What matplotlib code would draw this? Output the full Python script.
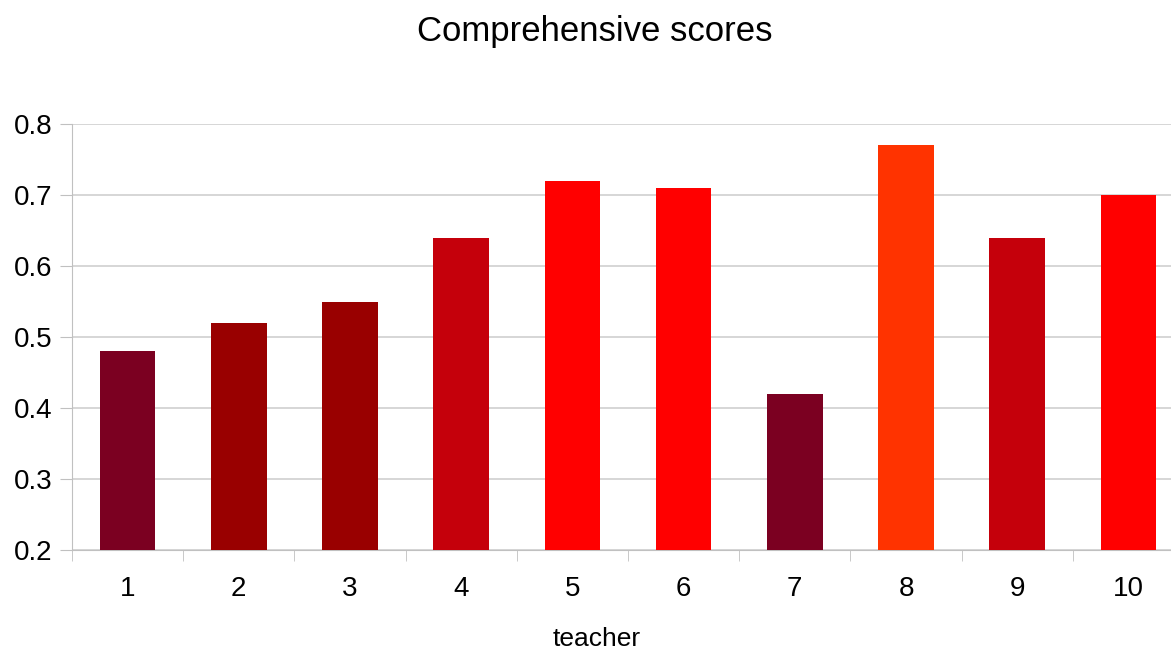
import matplotlib.pyplot as plt
import numpy as np

plt.rcParams['font.family'] = ['Liberation Sans', 'DejaVu Sans']

teachers = ['1', '2', '3', '4', '5', '6', '7', '8', '9', '10']
scores = [0.48, 0.52, 0.55, 0.64, 0.72, 0.71, 0.42, 0.77, 0.64, 0.70]
colors = ['#7b0021', '#990000', '#990000', '#c5000b', '#ff0000',
          '#ff0000', '#7b0021', '#ff3300', '#c5000b', '#ff0000']

fig = plt.figure(figsize=(11.71, 6.52), dpi=100)
# plot area runs a little past the right edge of the image, as in the original
ax = fig.add_axes([72/1171, 1-550/652, (1184-72)/1171, (550-124)/652])

x = np.arange(1, len(teachers)+1)
ax.bar(x, scores, width=0.5, color=colors, zorder=3)

ax.set_xlim(0.5, len(teachers)+0.5)
ax.set_ylim(0.2, 0.8)
ax.set_yticks(np.arange(0.2, 0.81, 0.1))
ax.set_yticklabels(['%.1f' % v for v in np.arange(0.2, 0.81, 0.1)])
ax.set_xticks(x)
ax.set_xticklabels(teachers)
ax.set_xticks(np.arange(0.5, len(teachers)+0.5, 1), minor=True)

ax.grid(axis='y', color='#d0d0d0', linewidth=1.2, zorder=0)
for s in ['top', 'right']:
    ax.spines[s].set_visible(False)
ax.spines['left'].set_color('#c0c0c0')
ax.spines['bottom'].set_color('#c0c0c0')
ax.tick_params(axis='y', length=9, color='#c0c0c0', labelsize=20, pad=5)
ax.tick_params(axis='x', which='major', length=0, labelsize=20, pad=19)
ax.tick_params(axis='x', which='minor', length=8, color='#c0c0c0')

# axis title sits right at the bottom edge
fig.text(597/1171, 1/652, 'teacher', fontsize=19, ha='center', va='bottom')
fig.text(595/1171, 1-32/652, 'Comprehensive scores', fontsize=25, ha='center', va='center')

fig.savefig('out.png', dpi=100)
